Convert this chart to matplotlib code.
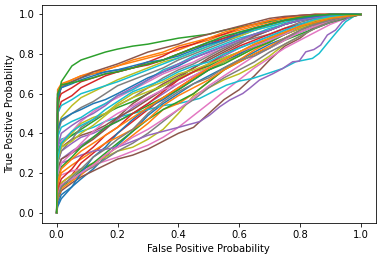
import matplotlib
matplotlib.use("Agg")
import matplotlib.pyplot as plt

fpr = [0, .003, .015, .05, .08, .12, .16, .2, .25, .3, .35, .4, .45, .5, .55, .6, .65, .7, .75, .8, .85, .9, .95, 1]
fpr_s10 = [0, .003, .015, .05, .08, .12, .16, .2, .25, .3, .35, .4, .47, .514, .558, .601, .645, .688, .743, .786, .841, .863, .89, .917, .95, .983, 1]
fpr_s25 = [0, .003, .015, .05, .08, .12, .16, .2, .25, .3, .35, .4, .47, .503, .536, .569, .612, .634, .667, .71, .743, .776, .797, .819, .846, .868, .89, .917, .939, .972, 1]

s01 = [0,.03,.07,.13,.17,.22,.28,.34,.41,.49,.55,.60,.65,.69,.73,.77,.81,.85,.88,.91,.94,.96,.98,1]
s02 = [0,.62,.65,.67,.69,.71,.72,.74,.76,.78,.80,.82,.85,.87,.90,.92,.94,.96,.97,.98,.99,.995,1,1]
s03 = [0,.50,.66,.74,.77,.79,.81,.825,.84,.85,.865,.88,.89,.90,.92,.935,.95,.965,.98,.99,.995,1,1,1]
s04 = [0,.10,.15,.19,.25,.30,.35,.40,.46,.52,.58,.63,.68,.72,.76,.80,.84,.87,.90,.93,.95,.97,.985,1]
s05 = [0,.25,.31,.35,.38,.40,.43,.46,.50,.55,.60,.65,.69,.73,.77,.81,.84,.87,.90,.93,.95,.97,.985,1]
s06 = [0,.06,.11,.15,.18,.21,.24,.27,.29,.32,.36,.40,.43,.50,.57,.62,.69,.77,.84,.88,.94,.96,.99,1]
s07 = [0,.16,.19,.21,.22,.24,.26,.28,.31,.34,.38,.43,.49,.55,.61,.67,.73,.78,.83,.87,.91,.95,.98,1]
s08 = [0,.40,.46,.50,.53,.56,.60,.64,.67,.70,.73,.77,.80,.83,.86,.89,.92,.95,.97,.985,.995,1,1,1]
s09 = [0,.10,.15,.19,.22,.25,.28,.31,.33,.37,.42,.50,.59,.63,.67,.70,.74,.79,.85,.89,.93,.96,.985,1]
s10 = [0,.33,.37,.39,.41,.43,.46,.48,.50,.52,.54,.55,.576,.61,.643,.664,.677,.699,.727,.761,.778,.803,.854,.904,.963,.996,1]
s11 = [0,.60,.64,.66,.68,.70,.71,.72,.73,.75,.77,.80,.83,.86,.88,.91,.93,.95,.97,.985,.995,1,1,1]
s12 = [0,.07,.12,.16,.19,.24,.29,.33,.39,.45,.52,.55,.60,.66,.72,.77,.82,.86,.90,.93,.955,.975,.99,1]
s13 = [0,.08,.13,.17,.21,.25,.30,.35,.41,.47,.52,.56,.60,.66,.72,.76,.80,.83,.87,.90,.93,.96,.98,1]
s14 = [0,.50,.56,.59,.63,.66,.69,.71,.73,.76,.79,.83,.85,.88,.90,.93,.95,.97,.985,.995,1,1,1,1]
s15 = [0,.20,.27,.31,.34,.38,.42,.47,.53,.58,.62,.67,.71,.75,.79,.83,.86,.89,.92,.95,.97,.985,.995,1]
s16 = [0,.28,.33,.37,.39,.41,.44,.48,.52,.57,.62,.68,.73,.78,.82,.86,.89,.92,.95,.97,.985,.995,1,1]
s17 = [0,.30,.36,.41,.46,.51,.55,.58,.62,.66,.70,.73,.76,.80,.83,.86,.89,.92,.95,.97,.985,.995,1,1]
s18 = [0,.11,.14,.17,.20,.23,.27,.31,.35,.40,.46,.52,.57,.63,.68,.72,.76,.81,.85,.89,.93,.96,.985,1]
s19 = [0,.42,.48,.54,.58,.61,.64,.67,.70,.73,.76,.78,.81,.84,.87,.89,.92,.94,.96,.98,.99,1,1,1]
s20 = [0,.50,.54,.57,.60,.62,.64,.66,.69,.72,.75,.78,.81,.84,.87,.90,.92,.94,.96,.98,.99,1,1,1]
s21 = [0,.04,.09,.13,.20,.28,.33,.40,.47,.53,.57,.62,.67,.72,.76,.80,.84,.87,.90,.93,.95,.97,.99,1]
s22 = [0,.14,.20,.24,.27,.31,.35,.38,.42,.47,.54,.59,.63,.67,.72,.76,.80,.84,.88,.92,.95,.97,.99,1]
s23 = [0,.30,.35,.39,.42,.46,.50,.53,.56,.60,.64,.68,.71,.74,.78,.81,.84,.88,.91,.94,.965,.98,.995,1]
s24 = [0,.56,.60,.63,.66,.68,.70,.71,.73,.745,.77,.80,.83,.85,.88,.90,.93,.95,.97,.98,.99,1,1,1]
s25 = [0,.20,.25,.27,.29,.31,.32,.33,.36,.39,.41,.43,.459,.492,.534,.568,.601,.627,.669,.70,.727,.761,.764,.811,.823,.845,.896,.921,.963,.996,1]
s26 = [0,.22,.27,.30,.33,.37,.42,.48,.55,.60,.65,.69,.73,.77,.81,.85,.89,.92,.95,.97,.985,.995,1,1]
s27 = [0,.09,.14,.17,.20,.24,.29,.33,.38,.42,.47,.52,.58,.64,.69,.74,.79,.83,.87,.91,.94,.97,.99,1]
s28 = [0,.25,.31,.37,.43,.47,.50,.54,.58,.63,.68,.72,.75,.79,.83,.86,.88,.90,.93,.96,.98,.99,1,1]
s29 = [0,.26,.33,.36,.40,.44,.49,.54,.58,.61,.64,.68,.71,.73,.76,.79,.83,.86,.90,.93,.96,.98,.99,1]
s30 = [0,.38,.43,.46,.48,.52,.55,.59,.62,.67,.72,.75,.79,.82,.85,.88,.90,.93,.95,.97,.99,1,1,1]
s31 = [0,.42,.47,.50,.52,.55,.57,.60,.64,.68,.71,.74,.78,.81,.84,.87,.90,.92,.95,.97,.985,.995,1,1]
s32 = [0,.60,.64,.67,.69,.70,.72,.74,.77,.79,.81,.84,.86,.88,.91,.93,.95,.97,.98,.99,1,1,1,1]
s33 = [0,.18,.23,.28,.33,.38,.43,.46,.50,.54,.58,.62,.67,.72,.75,.79,.83,.86,.90,.94,.96,.98,.99,1]
s34 = [0,.12,.17,.22,.28,.33,.39,.43,.50,.55,.61,.67,.71,.75,.80,.84,.87,.90,.93,.95,.97,.985,.995,1]
s35 = [0,.33,.40,.44,.47,.50,.54,.59,.63,.67,.71,.75,.78,.81,.84,.87,.90,.92,.95,.97,.985,.995,1,1]
s36 = [0,.58,.63,.66,.68,.71,.73,.75,.78,.81,.83,.85,.88,.90,.92,.94,.96,.98,.99,.995,1,1,1,1]
s37 = [0,.19,.25,.30,.35,.41,.46,.50,.54,.58,.62,.65,.69,.73,.77,.81,.84,.87,.90,.94,.97,.985,.995,1]
s38 = [0,.08,.13,.18,.22,.28,.32,.37,.42,.50,.56,.61,.65,.68,.73,.77,.79,.83,.88,.92,.95,.97,.99,1]
s39 = [0,.28,.34,.40,.45,.48,.50,.55,.60,.63,.66,.70,.72,.75,.78,.81,.85,.88,.91,.94,.97,.985,.995,1]
s40 = [0,.27,.35,.41,.44,.47,.52,.56,.61,.64,.67,.71,.74,.76,.80,.83,.86,.89,.92,.95,.975,.99,1,1]
s41 = [0,.58,.63,.65,.67,.69,.71,.72,.74,.76,.77,.79,.82,.85,.87,.90,.93,.95,.97,.98,.99,1,1,1]
s42 = [0,.15,.22,.27,.31,.35,.39,.43,.48,.53,.58,.63,.68,.73,.77,.81,.85,.88,.91,.94,.96,.98,.99,1]
s43 = [0,.60,.645,.655,.665,.68,.70,.71,.73,.75,.77,.80,.83,.86,.89,.91,.93,.95,.97,.985,.995,1,1,1]

series = [s01, s02, s03, s04, s05, s06, s07, s08, s09, s10,
          s11, s12, s13, s14, s15, s16, s17, s18, s19, s20,
          s21, s22, s23, s24, s25, s26, s27, s28, s29, s30,
          s31, s32, s33, s34, s35, s36, s37, s38, s39, s40,
          s41, s42, s43]

W, H = 380, 257
fig = plt.figure(figsize=(W / 72, H / 72), dpi=72)
ax = fig.add_axes([41.5 / W, (H - 222.5) / H, 334.5 / W, 218 / H])
for s in series:
    x = fpr_s10 if s is s10 else fpr_s25 if s is s25 else fpr
    ax.plot(x, s)
ax.set_xlabel("False Positive Probability")
ax.set_ylabel("True Positive Probability")
fig.savefig("out.png", dpi=72)
